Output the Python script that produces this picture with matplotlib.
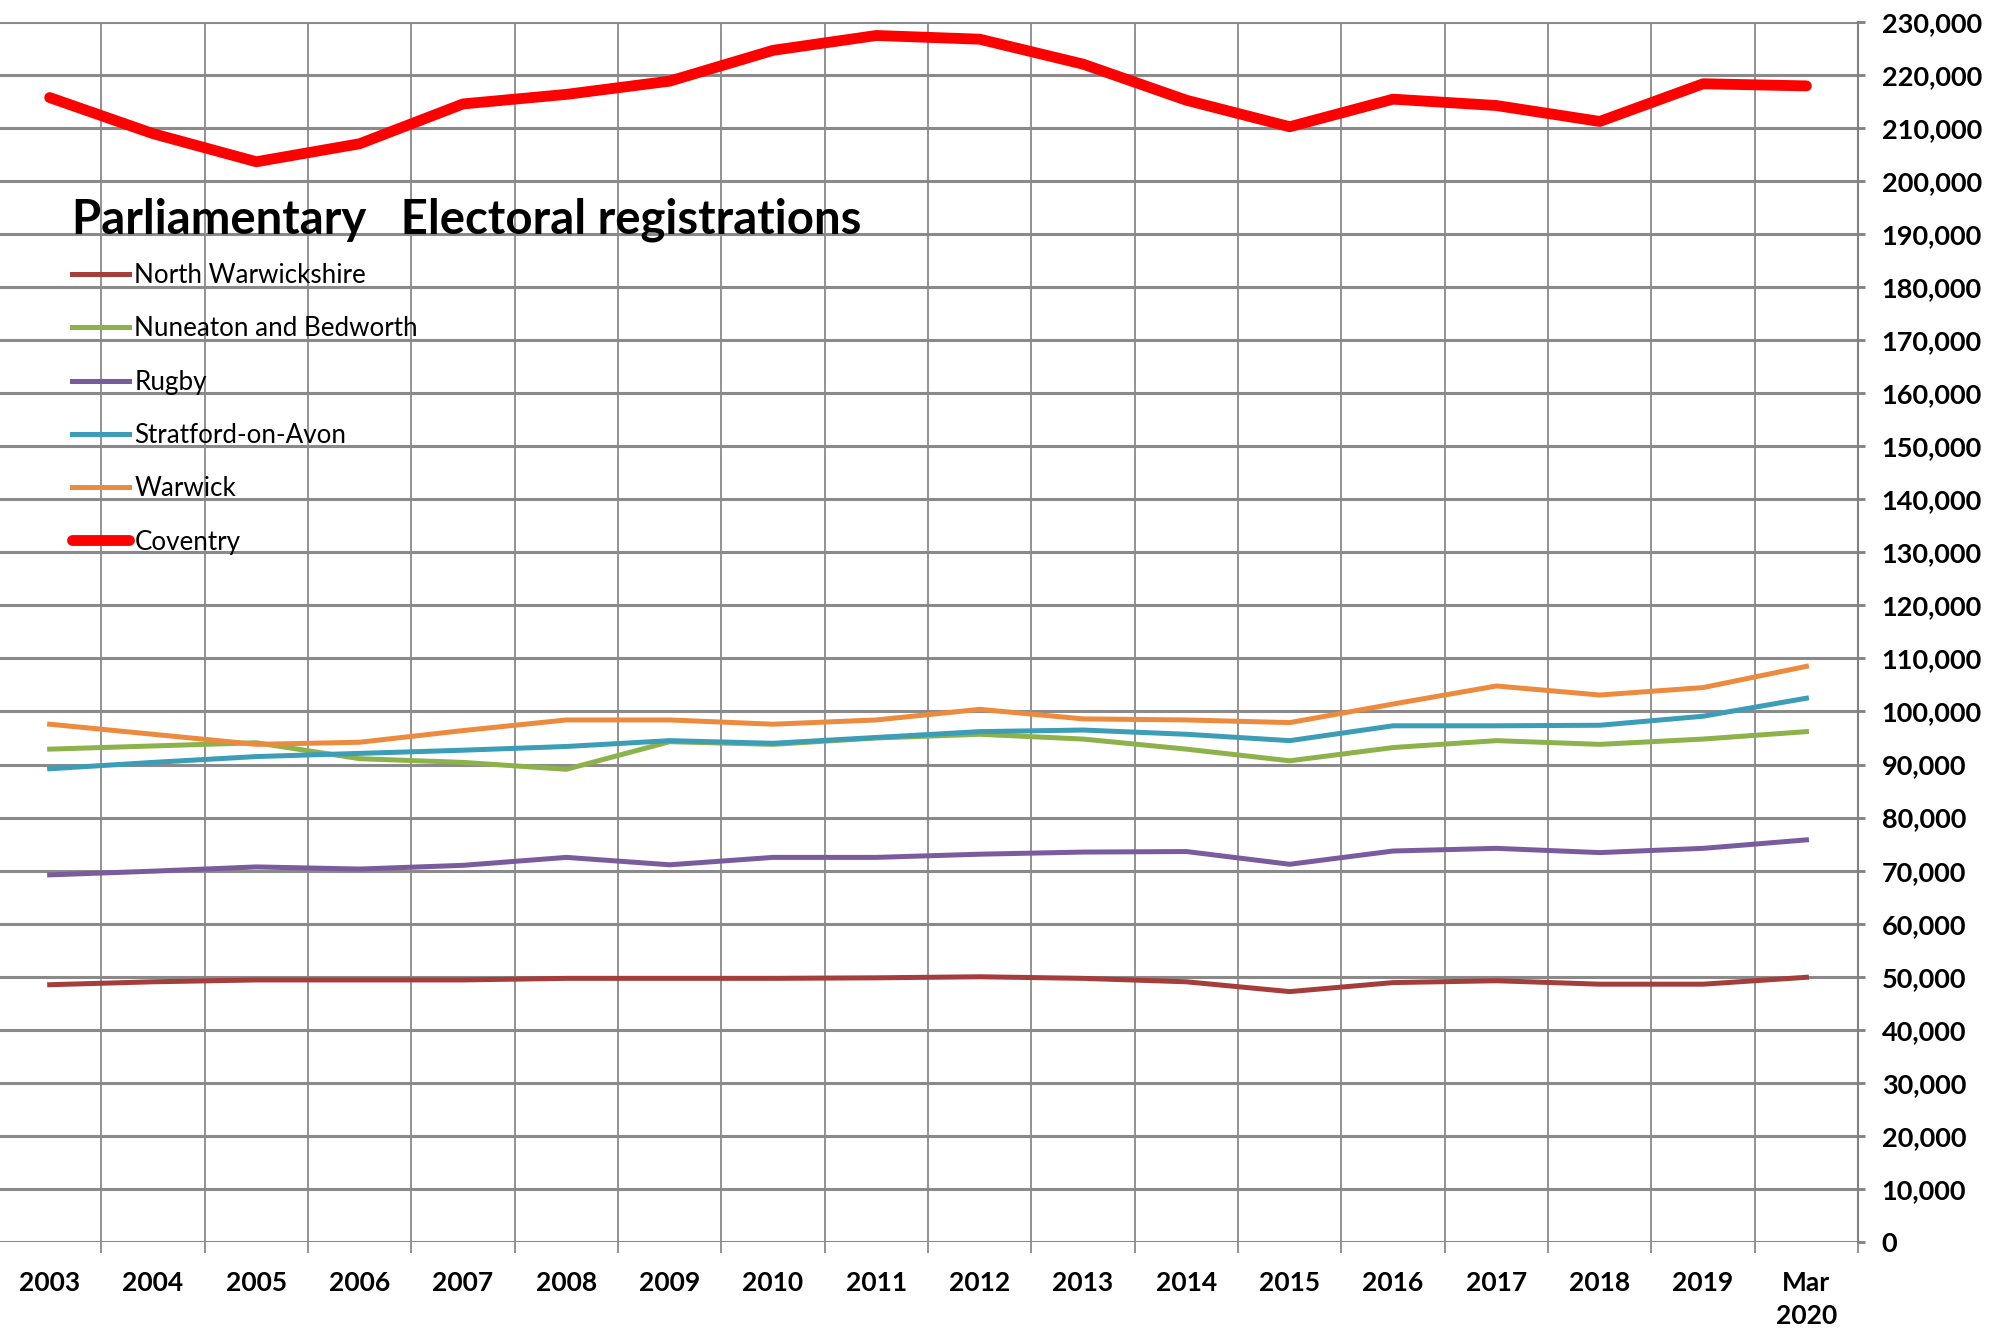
import numpy as np
import matplotlib
matplotlib.use('Agg')
import matplotlib.pyplot as plt
from matplotlib.ticker import FuncFormatter, FixedLocator

plt.rcParams['font.family'] = ['Lato', 'DejaVu Sans']

years = ['2003', '2004', '2005', '2006', '2007', '2008', '2009', '2010', '2011',
         '2012', '2013', '2014', '2015', '2016', '2017', '2018', '2019', 'Mar\n2020']

north_warwickshire = [48500, 49050, 49400, 49400, 49400, 49700, 49700, 49700, 49800,
                      50000, 49700, 49050, 47200, 48900, 49250, 48600, 48600, 49900]
nuneaton_bedworth = [92900, 93500, 94100, 91100, 90400, 89100, 94300, 93800, 95000,
                     95700, 94800, 92900, 90700, 93200, 94500, 93800, 94800, 96200]
rugby = [69200, 69900, 70700, 70300, 71000, 72500, 71100, 72500, 72500,
         73100, 73500, 73600, 71200, 73700, 74200, 73400, 74200, 75800]
stratford = [89200, 90400, 91500, 92100, 92700, 93400, 94500, 94000, 95100,
             96200, 96500, 95700, 94500, 97300, 97300, 97400, 99100, 102500]
warwick = [97600, 95700, 93800, 94200, 96400, 98400, 98400, 97600, 98400,
           100400, 98600, 98400, 97900, 101400, 104800, 103100, 104500, 108500]
coventry = [215700, 208900, 203600, 207000, 214500, 216300, 218800, 224600, 227400,
            226700, 222000, 215200, 210200, 215400, 214200, 211200, 218300, 217900]

fig = plt.figure(figsize=(20.07, 13.39), dpi=100)
ax = fig.add_axes([-0.001, 0.0724, 0.9268, 0.9114])

x = np.arange(len(years))
ax.plot(x, north_warwickshire, color='#A53E3B', lw=3.6, label='North Warwickshire')
ax.plot(x, nuneaton_bedworth, color='#8DB24C', lw=3.6, label='Nuneaton and Bedworth')
ax.plot(x, rugby, color='#7A5C9E', lw=3.6, label='Rugby')
ax.plot(x, stratford, color='#3C9DB6', lw=3.6, label='Stratford-on-Avon')
ax.plot(x, warwick, color='#EC8B3E', lw=3.6, label='Warwick')
ax.plot(x, coventry, color='#FF0000', lw=7.8, label='Coventry', solid_capstyle='round')

ax.set_xlim(-0.5, len(years) - 0.5)
ax.set_ylim(0, 230000)

# category labels at centres, grid lines between categories
ax.set_xticks(x)
ax.set_xticklabels(years, fontsize=19, fontweight='bold', linespacing=1.45)
ax.xaxis.set_minor_locator(FixedLocator(np.arange(-0.5, len(years), 1)))
ax.tick_params(axis='x', which='major', length=0, pad=21)
ax.tick_params(axis='x', which='minor', length=8, color='#808080', width=1.2)
ax.grid(True, axis='x', which='minor', color='#7f7f7f', lw=1.2)

ax.yaxis.tick_right()
ax.set_yticks(np.arange(0, 230001, 10000))
ax.yaxis.set_major_formatter(FuncFormatter(lambda v, p: f'{int(v):,}'))
ax.tick_params(axis='y', length=5, color='#808080', width=2, pad=12, labelsize=19.5)
for lab in ax.get_yticklabels():
    lab.set_fontweight('bold')
ax.grid(True, axis='y', which='major', color='#8a8a8a', lw=2.2)

for s in ['left', 'top', 'bottom']:
    ax.spines[s].set_visible(False)
ax.spines['right'].set_color('#808080')
ax.spines['right'].set_linewidth(1.5)

fig.text(72 / 2007, 1 - 220 / 1339, 'Parliamentary   Electoral registrations',
         fontsize=34, fontweight='bold', va='center', ha='left')

ax.legend(loc='upper left', bbox_to_anchor=(72 / 2007, 1 - 263 / 1339),
          bbox_transform=fig.transFigure, frameon=False, fontsize=18.7,
          handlelength=2.2, handletextpad=0.2,
          labelspacing=1.09, borderpad=0, borderaxespad=0)

fig.savefig('out.png', dpi=100)
